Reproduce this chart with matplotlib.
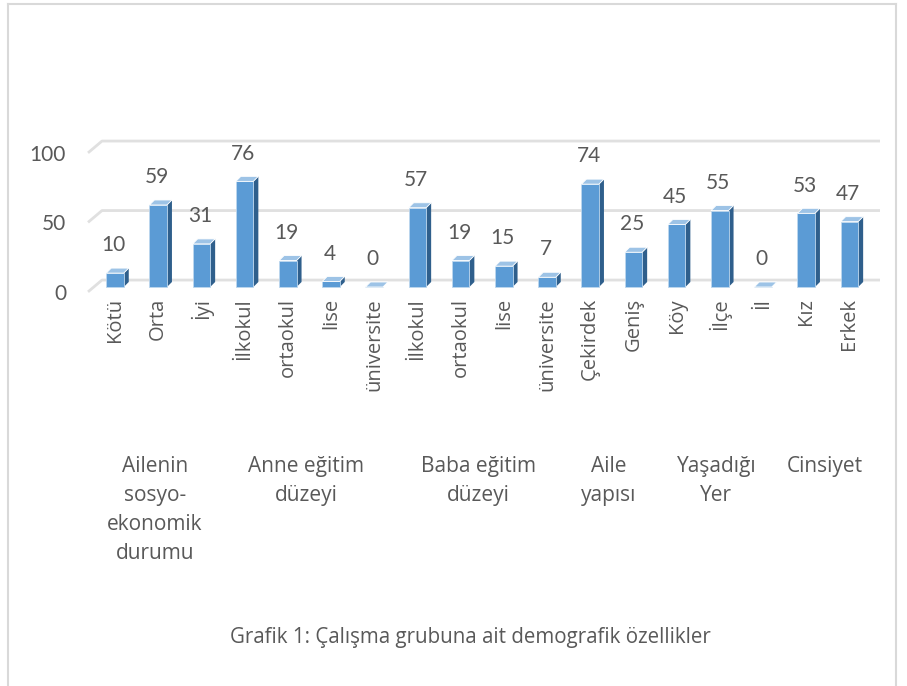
import matplotlib
matplotlib.use('Agg')
import matplotlib.pyplot as plt
from matplotlib.patches import Polygon
from matplotlib.lines import Line2D
from matplotlib.transforms import blended_transform_factory

# data
categories = ['Kötü', 'Orta', 'İyi',
              'İlkokul', 'ortaokul', 'lise', 'üniversite',
              'İlkokul', 'ortaokul', 'lise', 'üniversite',
              'Çekirdek', 'Geniş',
              'Köy', 'İlçe', 'İl',
              'Kız', 'Erkek']
values = [10, 59, 31, 76, 19, 4, 0, 57, 19, 15, 7, 74, 25, 45, 55, 0, 53, 47]
groups = ['Ailenin\nsosyo-\nekonomik\ndurumu', 'Anne eğitim\ndüzeyi', 'Baba eğitim\ndüzeyi',
          'Aile\nyapısı', 'Yaşadığı\nYer', 'Cinsiyet']
group_sizes = [3, 4, 4, 2, 3, 2]
yticks = [0, 50, 100]
caption = 'Grafik 1: Çalışma grubuna ait demografik özellikler'

W, H = 907, 686
fig = plt.figure(figsize=(W / 100, H / 100), dpi=100)

# pixel layout of the plot area
x0, step = 115, 43.2      # first bar centre, bar spacing (px)
base, scale = 287, 1.39   # zero line (px from top), px per unit
left_px, right_px, top_px, bot_px = 80, 890, 130, 296
xlim = ((left_px - x0) / step, (right_px - x0) / step)
ylim = ((base - bot_px) / scale, (base - top_px) / scale)
ax = fig.add_axes([left_px / W, 1 - bot_px / H, (right_px - left_px) / W, (bot_px - top_px) / H])
ax.set_xlim(*xlim)
ax.set_ylim(*ylim)
ax.set_facecolor('none')
for s in ax.spines.values():
    s.set_visible(False)

txt = '#595959'
grid_c = '#E0E0E0'
front_c, side_c, top_c = '#5B9BD5', '#2F5F8C', '#9DC3E6'

# 3d-looking gridlines: front edge, diagonal, back wall
gx_front = (88 - x0) / step
gx_back = (102 - x0) / step
gx_right = (880 - x0) / step
for t in yticks:
    ax.plot([gx_front, gx_back, gx_right], [t - 3.5, t + 5, t + 5],
            color=grid_c, lw=2, solid_capstyle='butt', zorder=1, clip_on=False)

# bars with side and top faces
w = 17.5 / step
dx = 5 / step
dy = 5 / scale
xs = list(range(len(values)))
ax.bar(xs, values, width=w, color=front_c, edgecolor='#BDD7EE', linewidth=0.6, zorder=3)
for i, v in zip(xs, values):
    xl, xr = i - w / 2, i + w / 2
    ax.add_patch(Polygon([(xr, 0), (xr, v), (xr + dx, v + dy), (xr + dx, dy)],
                         closed=True, facecolor=side_c, edgecolor='none', zorder=2))
    ax.add_patch(Polygon([(xl, v), (xr, v), (xr + dx, v + dy), (xl + dx, v + dy)],
                         closed=True, facecolor=top_c, edgecolor='white', lw=0.6, zorder=4))
    ax.annotate(str(v), (i, v), xytext=(-1, 20), textcoords='offset points',
                ha='center', va='center', fontsize=15, family='Lato', color=txt)

ax.set_xticks(xs)
ax.set_xticklabels(categories, rotation=90, fontsize=14.5, family='Open Sans', color=txt)
ax.tick_params(axis='x', length=0, pad=1.5)
ax.set_yticks([t - 3.5 for t in yticks])
ax.set_yticklabels([str(t) for t in yticks], fontsize=15, family='Lato', color=txt)
ax.tick_params(axis='y', length=0, pad=10)

# group labels under the ticks
tr = blended_transform_factory(ax.transData, fig.transFigure)
start = 0
for g, n in zip(groups, group_sizes):
    cx = start + (n - 1) / 2 - 0.08
    ax.text(cx, 1 - 456 / H, g, transform=tr, ha='center', va='top', fontsize=15,
            family='Open Sans', color=txt, linespacing=1.5)
    start += n

fig.text(470 / W, 1 - 637 / H, caption, ha='center', va='center', fontsize=14.8,
         family='Open Sans', color=txt)

# chart frame
frame = dict(color='#D9D9D9', lw=1.5, transform=fig.transFigure)
fig.add_artist(Line2D([8 / W, 896 / W], [1 - 4 / H, 1 - 4 / H], **frame))
fig.add_artist(Line2D([8 / W, 8 / W], [1 - 4 / H, 0], **frame))
fig.add_artist(Line2D([896 / W, 896 / W], [1 - 4 / H, 0], **frame))

fig.savefig('out.png', dpi=100, facecolor='white')
